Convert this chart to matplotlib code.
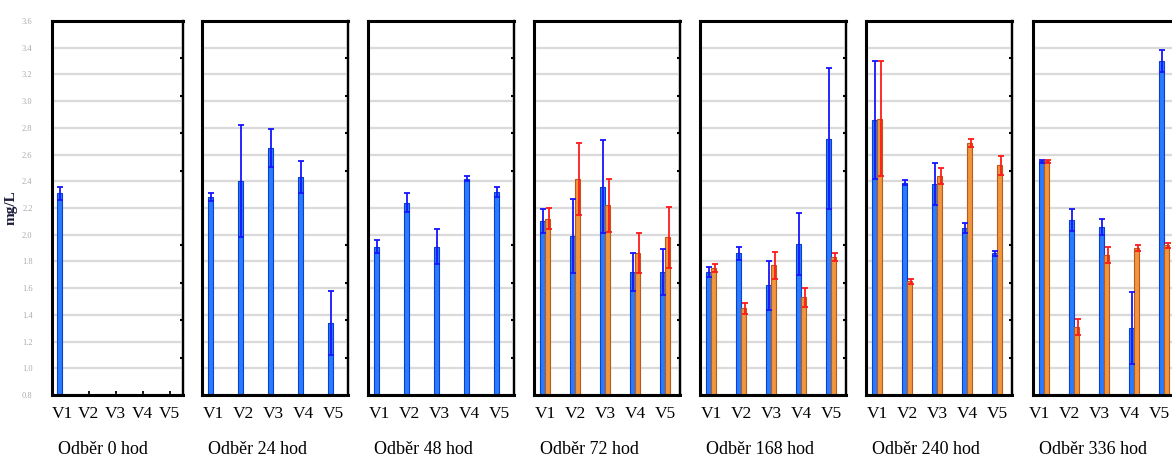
import numpy as np
import matplotlib.pyplot as plt
import matplotlib.transforms as mtransforms

nan = np.nan

categories = ['V1', 'V2', 'V3', 'V4', 'V5']
sample_hours = ['0', '24', '48', '72', '168', '240', '336']

# first series (blue) - mean and deviation per sampling time
blue_mean = [
    [2.31, nan, nan, nan, nan],
    [2.28, 2.40, 2.65, 2.43, 1.34],
    [1.91, 2.24, 1.91, 2.42, 2.32],
    [2.10, 1.99, 2.36, 1.72, 1.72],
    [1.72, 1.86, 1.62, 1.93, 2.72],
    [2.86, 2.39, 2.38, 2.05, 1.86],
    [2.55, 2.11, 2.06, 1.30, 3.30],
]
blue_err = [
    [0.05, nan, nan, nan, nan],
    [0.03, 0.42, 0.14, 0.12, 0.24],
    [0.05, 0.07, 0.13, 0.02, 0.04],
    [0.09, 0.28, 0.35, 0.14, 0.17],
    [0.04, 0.05, 0.18, 0.23, 0.53],
    [0.44, 0.02, 0.16, 0.04, 0.02],
    [0.01, 0.08, 0.06, 0.27, 0.08],
]

# second series (orange)
orange_mean = [
    [nan, nan, nan, nan, nan],
    [nan, nan, nan, nan, nan],
    [nan, nan, nan, nan, nan],
    [2.12, 2.42, 2.22, 1.86, 1.98],
    [1.75, 1.45, 1.77, 1.53, 1.83],
    [2.87, 1.65, 2.44, 2.69, 2.52],
    [2.55, 1.31, 1.85, 1.90, 1.92],
]
orange_err = [
    [nan, nan, nan, nan, nan],
    [nan, nan, nan, nan, nan],
    [nan, nan, nan, nan, nan],
    [0.08, 0.27, 0.20, 0.15, 0.23],
    [0.03, 0.04, 0.10, 0.07, 0.03],
    [0.43, 0.02, 0.06, 0.03, 0.07],
    [0.01, 0.06, 0.06, 0.02, 0.02],
]

y_ticks = np.arange(0.8, 3.61, 0.2)

W, H = 1172, 457
fig = plt.figure(figsize=(W / 100, H / 100), dpi=100)
plt.rcParams['font.family'] = ['Liberation Serif', 'DejaVu Serif']

# panel placement in pixels
lefts = [52, 202, 368, 534, 700, 866, 1033]
widths = [131, 146, 146, 146, 146, 146, 146]
top_px, bottom_px = 21, 395

x = np.arange(len(categories))
bw = 0.18

for i, hours in enumerate(sample_hours):
    ax = fig.add_axes([lefts[i] / W, 1 - bottom_px / H, widths[i] / W, (bottom_px - top_px) / H])

    ax.bar(x - bw / 2, blue_mean[i], width=bw, color='#2a7cff', edgecolor='#0a40cc', linewidth=0.8, zorder=2)
    ax.errorbar(x - bw / 2 + 0.03, blue_mean[i], yerr=blue_err[i], fmt='none', ecolor='#1515ff',
                elinewidth=1.3, capsize=2.2, capthick=1.3, zorder=3)
    ax.bar(x + bw / 2, orange_mean[i], width=bw, color='#f0963e', edgecolor='#b85a1c', linewidth=0.8, zorder=2)
    ax.errorbar(x + bw / 2 + 0.03, orange_mean[i], yerr=orange_err[i], fmt='none', ecolor='#ff1a1a',
                elinewidth=1.3, capsize=2.2, capthick=1.3, zorder=3)

    ax.set_xlim(-0.37, 4.5)
    ax.set_ylim(0.8, 3.6)
    ax.set_yticks(y_ticks)
    ax.yaxis.grid(True, color='#dadada', linewidth=1.6)
    ax.set_axisbelow(True)

    ax.set_xticks(x)
    ax.set_xticklabels(categories, fontsize=12.5)
    ax.tick_params(axis='x', direction='in', length=3, width=1.3, pad=8)

    if i == len(sample_hours) - 1:
        # last panel is cut by the figure edge, nudge labels a bit left
        shift = mtransforms.ScaledTranslation(-5 / 100, 0, fig.dpi_scale_trans)
        for lab in ax.get_xticklabels():
            lab.set_transform(lab.get_transform() + shift)

    if i == 0:
        ax.set_yticklabels([f'{v:.1f}' for v in y_ticks], fontsize=6, color='#aaaaaa')
        ax.tick_params(axis='y', length=0, pad=14)
        ax.set_ylabel('mg/L', fontsize=11, fontweight='bold', color='#1a1a3a', labelpad=3)
    else:
        ax.set_yticklabels([])
        ax.tick_params(axis='y', length=0)

    # odd little ticks on the right frame
    sec = ax.secondary_yaxis('right')
    sec.set_yticks(np.arange(1.08, 3.4, 0.28))
    sec.set_yticklabels([])
    sec.tick_params(direction='in', length=2.5, width=1.5)
    sec.spines['right'].set_linewidth(1.6)

    for side in ['left', 'top', 'bottom']:
        ax.spines[side].set_linewidth(2.2)
    ax.spines['right'].set_linewidth(1.6)

    fig.text((lefts[i] + 6) / W, 3 / H, f'Odběr {hours} hod', fontsize=13, ha='left', va='baseline')

fig.savefig('out.png', dpi=100)
